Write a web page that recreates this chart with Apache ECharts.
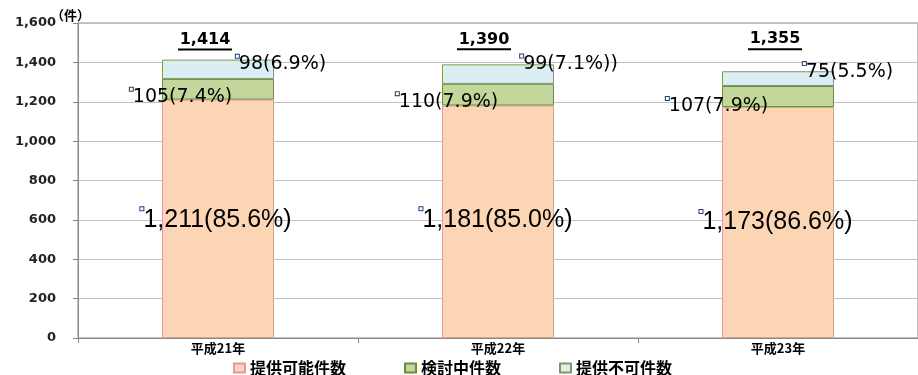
<!DOCTYPE html>
<html><head><meta charset="utf-8">
<script src="https://cdn.jsdelivr.net/npm/echarts@6/dist/echarts.min.js"></script>
<style>html,body{margin:0;padding:0;background:#fff}#c{width:918px;height:375px}</style>
</head><body><div id="c"></div>
<script>
const categories = ['平成21年', '平成22年', '平成23年'];
const seriesNames = ['提供可能件数', '検討中件数', '提供不可件数'];
const possible = [1211, 1181, 1173];
const reviewing = [105, 110, 107];
const impossible = [98, 99, 75];
const totals = [1414, 1390, 1355];
const labelsPossible = ['1,211(85.6%)', '1,181(85.0%)', '1,173(86.6%)'];
const labelsReviewing = ['105(7.4%)', '110(7.9%)', '107(7.9%)'];
const labelsImpossible = ['98(6.9%)', '99(7.1%))', '75(5.5%)'];
const yTicks = [0, 200, 400, 600, 800, 1000, 1200, 1400, 1600];

// label offsets (style)
const offPossible = [[-2, 1], [-2, -2], [-2, 0]];
const offReviewing = [[-37, 8], [-51, 7], [-61, 10]];
const offImpossible = [[63, -5], [71, -10], [70, -7]];
const offTotal = [[-13, -9], [-14, -14], [-3, -21]];

const sqRich = {
  sq: { width: 3, height: 3, borderColor: '#1F3F7F', borderWidth: 1, backgroundColor: '#fff', verticalAlign: 'top' }
};
function mkData(vals, labels, offs, font, size) {
  return vals.map((v, i) => ({
    value: v,
    label: {
      show: true, position: 'inside', offset: offs[i],
      formatter: '{sq|}{t|' + labels[i] + '}',
      rich: Object.assign({}, sqRich, { t: { fontFamily: font, fontSize: size, color: '#000' } })
    }
  }));
}

const chart = echarts.init(document.getElementById('c'));
chart.setOption({
  animation: false,
  title: { text: '（件）', left: 46, top: 4, textStyle: { fontSize: 13, fontWeight: 'bold', color: '#000', fontFamily: 'Noto Sans CJK JP' } },
  grid: { left: 78, right: -3, top: 23, bottom: 37, show: true, borderColor: '#888', borderWidth: 1 },
  legend: {
    data: seriesNames, left: 228, top: 355, itemWidth: 11, itemHeight: 9, itemGap: 58, icon: 'rect',
    textStyle: { fontSize: 16, fontWeight: 'bold', color: '#000', fontFamily: 'Noto Sans CJK JP' }
  },
  xAxis: {
    type: 'category', data: categories,
    axisLine: { lineStyle: { color: '#888' } },
    axisTick: { show: true, length: 5, lineStyle: { color: '#888' } },
    axisLabel: { margin: 4, fontSize: 13, fontWeight: 'bold', color: '#000', fontFamily: 'Noto Sans CJK JP' }
  },
  yAxis: {
    type: 'value', min: 0, max: 1600, interval: 200,
    axisLine: { show: true, lineStyle: { color: '#888' } },
    axisTick: { show: true, length: 5, lineStyle: { color: '#888' } },
    splitLine: { lineStyle: { color: '#c0c0c0' } },
    axisLabel: {
      margin: 22, fontSize: 13, fontWeight: 'bold', color: '#222', fontFamily: 'DejaVu Sans',
      formatter: v => yTicks.includes(v) ? v.toLocaleString('en-US') : ''
    }
  },
  series: [
    {
      name: seriesNames[0], type: 'bar', stack: 's', barWidth: '40%',
      itemStyle: { color: '#FCD5B5', borderColor: '#E39A9A', borderWidth: 1 },
      data: mkData(possible, labelsPossible, offPossible, 'Liberation Sans', 25)
    },
    {
      name: seriesNames[1], type: 'bar', stack: 's',
      itemStyle: { color: '#C3D69B', borderColor: '#6E8B3D', borderWidth: 1 },
      data: mkData(reviewing, labelsReviewing, offReviewing, 'DejaVu Sans', 19)
    },
    {
      name: seriesNames[2], type: 'bar', stack: 's',
      itemStyle: { color: '#DBEEF4', borderColor: '#7F9A5A', borderWidth: 1 },
      data: mkData(impossible, labelsImpossible, offImpossible, 'DejaVu Sans', 19)
    },
    {
      name: 'total', type: 'bar', stack: 's', silent: true,
      itemStyle: { color: 'rgba(0,0,0,0)' },
      data: totals.map((t, i) => ({
        value: 0,
        label: {
          show: true, position: 'top', distance: 0, offset: offTotal[i], align: 'center',
          formatter: '{t|' + t.toLocaleString('en-US') + '}\n{u|}',
          rich: {
            t: { fontFamily: 'DejaVu Sans', fontWeight: 'bold', fontSize: 16, color: '#000', align: 'center', lineHeight: 18 },
            u: { width: 54, height: 2, backgroundColor: '#000', align: 'center' }
          }
        }
      }))
    }
  ]
});
</script></body></html>
